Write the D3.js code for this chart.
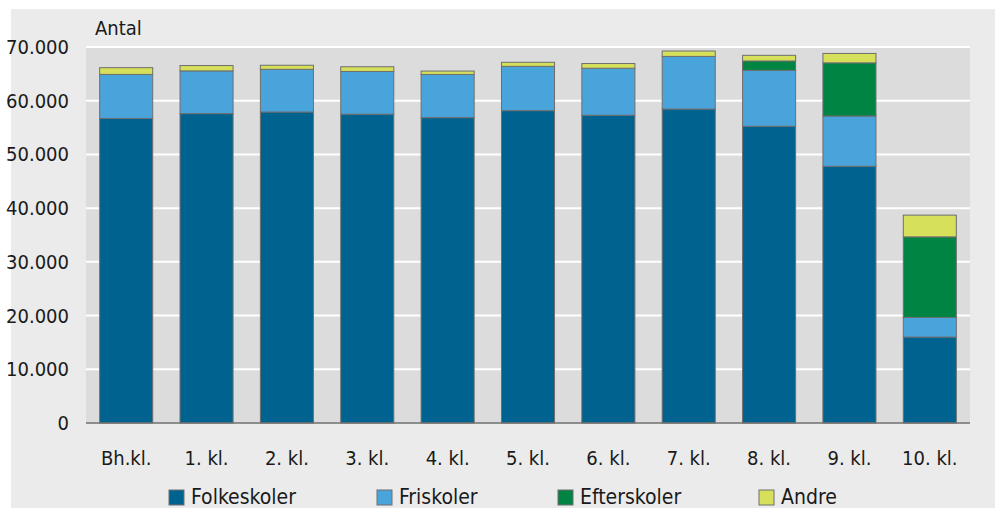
<!DOCTYPE html>
<html><head><meta charset="utf-8">
<script src="https://cdn.jsdelivr.net/npm/d3@7"></script>
<style>
html,body{margin:0;padding:0;background:#fff;}
svg{display:block;}
text{font-family:"Liberation Sans Narrow","DejaVu Sans Condensed","Liberation Sans",sans-serif;fill:#1a1a1a;}
</style></head><body>
<svg id="c" width="998" height="508"></svg>
<script>
const categories = ["Bh.kl.","1. kl.","2. kl.","3. kl.","4. kl.","5. kl.","6. kl.","7. kl.","8. kl.","9. kl.","10. kl."];
const seriesNames = ["Folkeskoler","Friskoler","Efterskoler","Andre"];
const folkeskoler = [56700,57600,57900,57500,56850,58150,57300,58450,55250,47800,16000];
const friskoler   = [8200,7950,7950,7950,8050,8250,8750,9800,10400,9350,3650];
const efterskoler = [0,0,0,0,0,0,0,0,1750,9900,15000];
const andre       = [1250,1000,750,870,620,750,870,1000,1050,1750,4050];
const yTicks = [0,10000,20000,30000,40000,50000,60000,70000];
const colors = ["#00628f","#4aa4dc","#008444","#d6e05a"];

const rows = categories.map((c,i)=>({cat:c, Folkeskoler:folkeskoler[i], Friskoler:friskoler[i], Efterskoler:efterskoler[i], Andre:andre[i]}));
const stack = d3.stack().keys(seriesNames)(rows);

const svg = d3.select("#c");
svg.append("rect").attr("x",11).attr("y",9).attr("width",984).attr("height",499).attr("fill","#ebebeb");

const L=86,R=970,T=47,B=423;
const x = d3.scaleBand().domain(categories).range([L,R]).paddingInner(0.34).paddingOuter(0.17);
const y = d3.scaleLinear().domain([0,70000]).range([B,T]);

svg.append("rect").attr("x",L).attr("y",T).attr("width",R-L).attr("height",B-T).attr("fill","#dcdcdc");

svg.append("g").selectAll("line").data(yTicks.filter(d=>d>0)).join("line")
  .attr("x1",L).attr("x2",R).attr("y1",d=>y(d)).attr("y2",d=>y(d))
  .attr("stroke","#fff").attr("stroke-width",2);

const fmt = d=> d===0 ? "0" : d3.format(",")(d).replace(/,/g,".");
svg.append("g").selectAll("text").data(yTicks).join("text")
  .attr("x",69).attr("y",d=>y(d)+7).attr("text-anchor","end")
  .attr("font-size",20).text(fmt);

svg.append("text").attr("x",95).attr("y",35).attr("font-size",20).text("Antal");

stack.forEach((s,si)=>{
  svg.append("g").selectAll("rect").data(s.filter(d=>d[1]-d[0]>0)).join("rect")
    .attr("x",d=>x(d.data.cat)).attr("width",x.bandwidth())
    .attr("y",d=>y(d[1])).attr("height",d=>y(d[0])-y(d[1]))
    .attr("fill",colors[si]).attr("stroke","#6e6e6e").attr("stroke-width",1);
});

svg.append("line").attr("x1",L).attr("x2",R).attr("y1",B).attr("y2",B).attr("stroke","#707070").attr("stroke-width",1.5);

svg.append("g").selectAll("text").data(categories).join("text")
  .attr("x",d=>x(d)+x.bandwidth()/2).attr("y",465).attr("text-anchor","middle")
  .attr("font-size",20).text(d=>d);

const legX = [169,377,558,759];
const lg = svg.append("g").selectAll("g").data(seriesNames).join("g");
lg.append("rect").attr("x",(d,i)=>legX[i]).attr("y",490).attr("width",15).attr("height",15)
  .attr("fill",(d,i)=>colors[i]).attr("stroke","#6e6e6e").attr("stroke-width",1);
lg.append("text").attr("x",(d,i)=>legX[i]+22).attr("y",504).attr("font-size",21).text(d=>d);
</script>
</body></html>
